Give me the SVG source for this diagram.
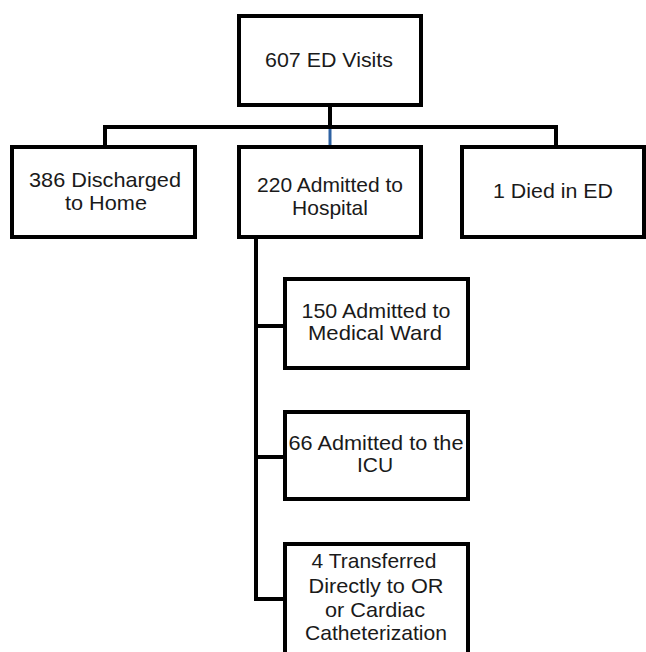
<svg xmlns="http://www.w3.org/2000/svg" width="646" height="652" viewBox="0 0 646 652">
<style>
.box{fill:#fff;stroke:#000;stroke-width:4}
.ln{fill:none;stroke:#000;stroke-width:4}
text{font-family:"Liberation Sans",Arial,sans-serif;font-size:21px;fill:#1a1a1a;text-anchor:middle}
</style>
<rect width="646" height="652" fill="#fff"/>
<g id="connectors">
<line class="ln" x1="330" y1="107" x2="330" y2="129"/>
<polyline class="ln" points="105,147 105,127 556,127 556,147"/>
<line x1="330" y1="129" x2="330" y2="146" stroke="#2e62a3" stroke-width="3"/>
<polyline class="ln" points="256,238 256,599 283,599"/>
<line class="ln" x1="256" y1="326" x2="283" y2="326"/>
<line class="ln" x1="256" y1="457" x2="283" y2="457"/>
</g>
<g id="n-ed"><rect class="box" x="239" y="16" width="182" height="89"/><text x="329" y="67" textLength="128" lengthAdjust="spacingAndGlyphs">607 ED Visits</text></g>
<g id="n-home"><rect class="box" x="12" y="147" width="183" height="90"/><text x="105" y="187" textLength="152" lengthAdjust="spacingAndGlyphs">386 Discharged</text><text x="106" y="210" textLength="82" lengthAdjust="spacingAndGlyphs">to Home</text></g>
<g id="n-hosp"><rect class="box" x="239" y="147" width="182" height="90"/><text x="330" y="192">220 Admitted to</text><text x="330" y="215">Hospital</text></g>
<g id="n-died"><rect class="box" x="462" y="147" width="182" height="90"/><text x="553" y="198" textLength="120" lengthAdjust="spacingAndGlyphs">1 Died in ED</text></g>
<g id="n-ward"><rect class="box" x="285" y="279" width="183" height="89"/><text x="376" y="318" textLength="149" lengthAdjust="spacingAndGlyphs">150 Admitted to</text><text x="375" y="340" textLength="134" lengthAdjust="spacingAndGlyphs">Medical Ward</text></g>
<g id="n-icu"><rect class="box" x="285" y="412" width="183" height="87"/><text x="376" y="450" textLength="175" lengthAdjust="spacingAndGlyphs">66 Admitted to the</text><text x="375" y="472">ICU</text></g>
<g id="n-or"><rect class="box" x="285" y="544" width="183" height="115"/><text x="374" y="568" textLength="125" lengthAdjust="spacingAndGlyphs">4 Transferred</text><text x="376" y="593" textLength="135" lengthAdjust="spacingAndGlyphs">Directly to OR</text><text x="375" y="617" textLength="100" lengthAdjust="spacingAndGlyphs">or Cardiac</text><text x="376" y="640" textLength="142" lengthAdjust="spacingAndGlyphs">Catheterization</text></g>
</svg>
